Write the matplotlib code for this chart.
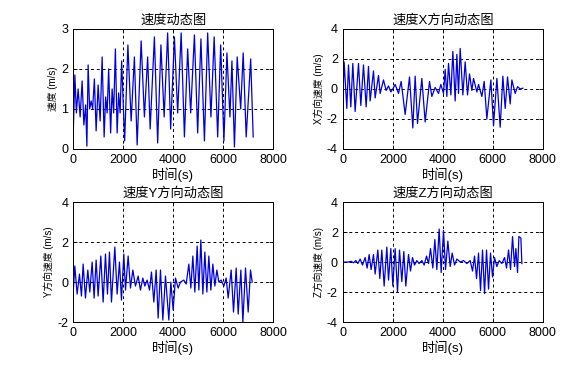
import matplotlib
matplotlib.use("Agg")
import matplotlib.pyplot as plt

plt.rcParams['font.family'] = ['Liberation Sans', 'Noto Sans CJK SC']
plt.rcParams['axes.unicode_minus'] = False

# speed magnitude (turning points)
t_v = [0, 70, 130, 200, 280, 360, 430, 500, 550, 600, 660, 720, 780, 850, 920, 1000,
       1080, 1160, 1240, 1300, 1360, 1420, 1500, 1560, 1620, 1690, 1760, 1820, 1880,
       1940, 2060, 2190, 2320, 2450, 2560, 2720, 2850, 2980, 3080, 3250, 3380, 3510,
       3640, 3780, 3900, 4050, 4180, 4320, 4450, 4580, 4700, 4850, 4980, 5110, 5250,
       5380, 5510, 5640, 5780, 5900, 6030, 6150, 6270, 6350, 6450, 6560, 6700, 6800,
       6920, 7100, 7200]
v = [0.3, 1.85, 0.9, 1.5, 0.8, 1.7, 0.6, 1.1, 0.07, 2.1, 1.0, 1.2, 1.0, 1.75, 0.45, 1.6,
     0.7, 2.3, 0.3, 1.3, 0.9, 2.0, 0.4, 1.5, 0.9, 2.5, 0.4, 1.4, 0.9,
     2.2, 0.2, 2.6, 0.7, 2.3, 0.1, 2.7, 0.8, 2.3, 0.5, 2.8, 0.15, 2.6,
     0.8, 2.9, 0.5, 2.8, 0.9, 2.9, 0.3, 2.5, 0.9, 2.85, 0.4, 2.75, 0.2,
     2.9, 0.8, 2.8, 0.3, 2.6, 0.2, 2.4, 0.8, 2.2, 0.05, 2.3, 1.0, 2.4,
     0.3, 2.25, 0.3]

t_x = [0, 53, 160, 227, 320, 400, 493, 627, 720, 827, 933, 1027, 1093, 1227, 1293, 1427,
       1493, 1627, 1733, 1827, 1920, 2000, 2093, 2227, 2333, 2493, 2667, 2800, 2893, 2987,
       3160, 3293, 3467, 3560, 3693, 3827, 3920, 4027, 4093, 4160, 4227, 4320, 4400, 4493,
       4560, 4627, 4693, 4800, 4893, 4987, 5067, 5160, 5227, 5360, 5427, 5560, 5653, 5760,
       5920, 6027, 6160, 6293, 6400, 6493, 6587, 6693, 6760, 6893, 6987, 7093, 7200]
vx = [-0.7, 1.8, -1.3, 1.6, -1.2, 1.7, -1.5, 1.7, -1.1, 1.6, -1.2, 1.5, -0.8, 1.2, -0.6, 0.9,
      -0.3, 0.6, -0.1, 0.2, -0.2, 0.0, 0.3, -0.3, 0.5, -1.7, 0.8, -2.6, 0.85, -2.3,
      0.7, -2.2, 0.5, -0.5, 0.1, -0.3, 0.3, -0.3, 1.3, -0.5, 1.7, -0.4, 2.5, -0.8,
      2.3, -0.3, 2.7, -0.4, 1.8, -0.4, 1.0, -0.1, 0.7, -0.2, 0.3, -0.5, 0.5, -2.0,
      0.6, -2.45, 0.7, -2.55, 0.85, -1.3, 0.8, -1.0, 0.6, -0.3, 0.15, 0.0, 0.05]

t_y = [0, 67, 160, 253, 333, 400, 493, 587, 667, 760, 840, 920, 1000, 1107, 1200, 1293,
       1373, 1453, 1533, 1667, 1760, 1853, 1933, 2027, 2093, 2200, 2293, 2387, 2493, 2600,
       2693, 2787, 2867, 2960, 3053, 3133, 3227, 3320, 3400, 3493, 3587, 3693, 3827, 3907,
       4000, 4093, 4200, 4293, 4427, 4520, 4627, 4707, 4787, 4867, 4960, 5027, 5107, 5187,
       5267, 5347, 5427, 5507, 5587, 5667, 5747, 5827, 5920, 6027, 6120, 6200, 6320, 6413,
       6520, 6600, 6707, 6787, 6893, 7000, 7093, 7160]
vy = [-0.6, 0.8, -0.6, 0.4, -0.7, 0.9, -0.8, 0.6, -0.5, 1.0, -0.8, 1.1, -0.7, 1.3, -1.0, 1.4,
      -0.6, 1.5, -1.0, 1.75, -0.6, 1.0, -0.9, 1.4, -0.4, 1.3, -0.3, 0.6, -0.2, 0.3,
      -0.4, 0.2, -0.2, 0.1, -0.4, 0.5, -1.0, 0.6, -1.8, 0.6, -1.9, 0.3, -1.9, 0.0,
      -1.4, 0.2, -0.3, 0.0, 0.1, -0.1, 0.9, -0.3, 1.3, -0.5, 1.8, -0.4, 2.1, -0.6,
      1.5, -0.5, 1.3, -0.4, 0.9, -0.2, 0.6, 0.0, 0.1, -0.2, 0.2, -0.8, 0.6, -1.5,
      0.7, -1.6, 0.6, -2.0, 0.7, -1.5, 0.6, 0.0]

t_z = [0, 227, 333, 427, 520, 600, 693, 787, 893, 973, 1053, 1133, 1227, 1293, 1400, 1480,
       1560, 1653, 1760, 1827, 1920, 2000, 2093, 2187, 2267, 2360, 2440, 2520, 2627, 2707,
       2787, 2867, 2960, 3053, 3160, 3253, 3347, 3427, 3507, 3600, 3680, 3760, 3853, 3933,
       4027, 4107, 4200, 4293, 4373, 4467, 4560, 4693, 4827, 4960, 5093, 5187, 5267, 5347,
       5427, 5507, 5587, 5667, 5747, 5827, 5907, 5987, 6067, 6160, 6253, 6360, 6467, 6547,
       6627, 6707, 6787, 6867, 6920, 6987, 7040, 7120, 7160]
vz = [0.0, 0.0, 0.05, -0.05, 0.1, -0.1, 0.2, -0.2, 0.3, -0.4, 0.5, -0.5, 0.5, -0.8, 0.8, -1.1,
      0.8, -1.6, 1.0, -1.2, 0.9, -1.6, 0.9, -2.0, 0.8, -1.3, 0.7, -1.6, 0.5, -0.6,
      0.3, -0.2, 0.1, -0.1, 0.1, -0.2, 0.4, -0.1, 0.9, -0.4, 1.5, -0.5, 2.2, -0.7,
      2.1, -0.5, 1.4, -0.3, 0.6, -0.2, 0.2, 0.0, 0.1, -0.1, 0.1, -0.6, 0.4, -1.1,
      0.6, -1.9, 0.8, -2.1, 0.8, -1.8, 0.6, -1.0, 0.3, -0.3, 0.1, -0.1, 0.3, -0.4,
      0.8, -0.5, 1.7, -0.3, 0.9, -0.7, 1.7, 1.6, -0.1]

titles = ['速度动态图', '速度X方向动态图', '速度Y方向动态图', '速度Z方向动态图']
ylabels = ['速度 (m/s)', 'X方向速度 (m/s)', 'Y方向速度 (m/s)', 'Z方向速度 (m/s)']
ylims = [(0, 3), (-4, 4), (-2, 4), (-4, 4)]
yticks = [[0, 1, 2, 3], [-4, -2, 0, 2, 4], [-2, 0, 2, 4], [-4, -2, 0, 2, 4]]
xticks = [0, 2000, 4000, 6000, 8000]
series = [(t_v, v), (t_x, vx), (t_y, vy), (t_z, vz)]

fig = plt.figure(figsize=(5.85, 3.66), dpi=100)
boxes = [[0.125, 0.593, 0.342, 0.328], [0.586, 0.593, 0.342, 0.328],
         [0.125, 0.120, 0.342, 0.328], [0.586, 0.120, 0.342, 0.328]]

for i in range(4):
    ax = fig.add_axes(boxes[i])
    t, y = series[i]
    ax.plot(t, y, color='#0000dd', linewidth=0.9)
    ax.set_xlim(0, 8000)
    ax.set_ylim(*ylims[i])
    ax.set_xticks(xticks)
    ax.set_yticks(yticks[i])
    ax.grid(True, linestyle=(0, (3, 3)), color='black', linewidth=0.7)
    ax.tick_params(direction='in', labelsize=9, length=3, width=0.6, top=True, right=True)
    for s in ax.spines.values():
        s.set_linewidth(0.7)
    ax.set_title(titles[i], fontsize=9.5, pad=4)
    ax.set_xlabel('时间(s)', fontsize=9.5, labelpad=1)
    ax.set_ylabel(ylabels[i], fontsize=7, labelpad=2)

fig.savefig('out.png', dpi=100, facecolor='white')
